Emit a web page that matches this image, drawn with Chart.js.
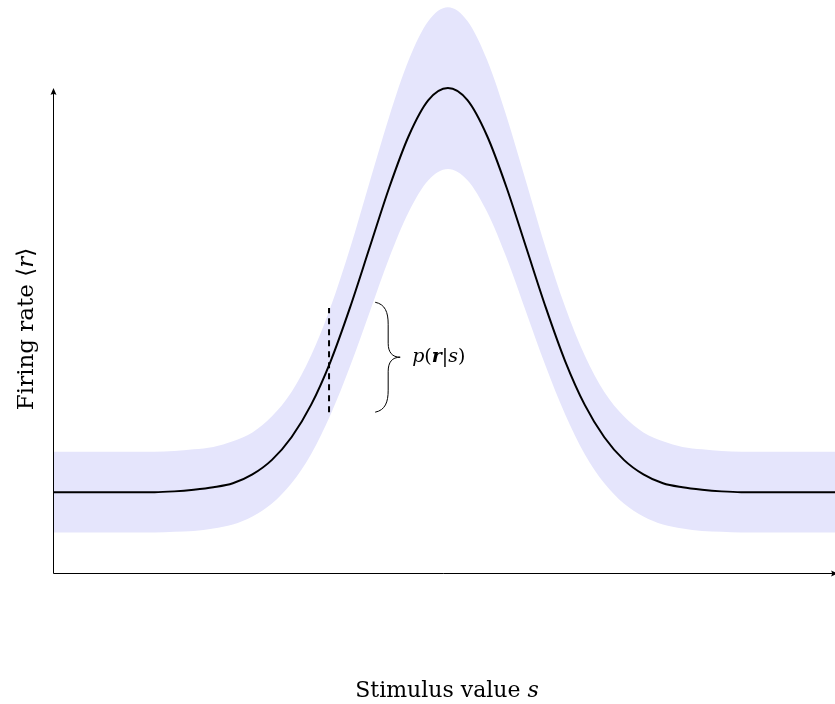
<!DOCTYPE html>
<html>
<head>
<meta charset="utf-8">
<script src="https://cdn.jsdelivr.net/npm/chart.js@4.4.1/dist/chart.umd.min.js"></script>
<style>
    body { margin: 0; background: #ffffff; }
    #wrap { position: relative; width: 835px; height: 704px; }
</style>
</head>
<body>
<div id="wrap"><canvas id="tuningChart"></canvas></div>
<script>
// stimulus values (peak at s = 0)
const stimulus = [-5.1, -4.5, -4, -3.75, -3.5, -3.25, -3, -2.75, -2.5, -2.25, -2, -1.75, -1.5, -1.25, -1, -0.75, -0.5, -0.25, 0,
    0.25, 0.5, 0.75, 1, 1.25, 1.5, 1.75, 2, 2.25, 2.5, 2.75, 3, 3.25, 3.5, 3.75, 4, 4.5, 5];
// mean firing rate
const meanRate = [1.00, 1.00, 1.00, 1.00, 1.01, 1.03, 1.06, 1.11, 1.22, 1.40, 1.68, 2.08, 2.62, 3.29, 4.03, 4.77, 5.41, 5.85, 6.00,
    5.85, 5.41, 4.77, 4.03, 3.29, 2.62, 2.08, 1.68, 1.40, 1.22, 1.11, 1.06, 1.03, 1.01, 1.00, 1.00, 1.00, 1.00];
// spread of responses
const upperRate = [1.50, 1.50, 1.50, 1.50, 1.51, 1.53, 1.56, 1.63, 1.74, 1.94, 2.24, 2.69, 3.29, 4.02, 4.84, 5.65, 6.35, 6.83, 7.00,
    6.83, 6.35, 5.65, 4.84, 4.02, 3.29, 2.69, 2.24, 1.94, 1.74, 1.63, 1.56, 1.53, 1.51, 1.50, 1.50, 1.50, 1.50];
const lowerRate = [0.50, 0.50, 0.50, 0.50, 0.51, 0.52, 0.55, 0.60, 0.70, 0.86, 1.11, 1.47, 1.96, 2.56, 3.23, 3.90, 4.47, 4.86, 5.00,
    4.86, 4.47, 3.90, 3.23, 2.56, 1.96, 1.47, 1.11, 0.86, 0.70, 0.60, 0.55, 0.52, 0.51, 0.50, 0.50, 0.50, 0.50];
// dashed slice and brace
const sliceS = [-1.52, -1.52];
const sliceRate = [1.99, 3.28];
const braceS = -0.93;
const braceRate = [3.35, 1.99];

const axisTop = 6;

function toPoints(xs, ys) {
    return xs.map((x, i) => ({ x: x, y: ys[i] }));
}

const serif = '"DejaVu Serif", "Liberation Serif", serif';

function drawPieces(ctx, pieces, x, y) {
    let cx = x;
    pieces.forEach(p => {
        ctx.font = p.font;
        ctx.fillText(p.text, cx, y);
        cx += ctx.measureText(p.text).width;
    });
}

function piecesWidth(ctx, pieces) {
    let w = 0;
    pieces.forEach(p => {
        ctx.font = p.font;
        w += ctx.measureText(p.text).width;
    });
    return w;
}

const decorations = {
    id: 'decorations',
    afterDatasetsDraw(chart) {
        const ctx = chart.ctx;
        const xs = chart.scales.x;
        const ys = chart.scales.y;
        const x0 = xs.getPixelForValue(xs.min) + 0.5;
        const y0 = ys.getPixelForValue(0) + 0.5;
        const yTop = ys.getPixelForValue(axisTop);
        const xEnd = chart.width + 3;

        ctx.save();
        ctx.strokeStyle = '#000';
        ctx.fillStyle = '#000';
        ctx.lineWidth = 1;

        // axes
        ctx.beginPath();
        ctx.moveTo(x0, y0);
        ctx.lineTo(x0, yTop + 4);
        ctx.moveTo(x0, y0);
        ctx.lineTo(xEnd - 4, y0);
        ctx.stroke();

        // arrow heads
        ctx.beginPath();
        ctx.moveTo(x0, yTop);
        ctx.lineTo(x0 - 3, yTop + 7);
        ctx.quadraticCurveTo(x0, yTop + 5, x0 + 3, yTop + 7);
        ctx.closePath();
        ctx.fill();
        ctx.beginPath();
        ctx.moveTo(xEnd, y0);
        ctx.lineTo(xEnd - 7, y0 - 3);
        ctx.quadraticCurveTo(xEnd - 5, y0, xEnd - 7, y0 + 3);
        ctx.closePath();
        ctx.fill();

        // brace
        const bx = xs.getPixelForValue(braceS);
        const b1 = ys.getPixelForValue(braceRate[0]);
        const b2 = ys.getPixelForValue(braceRate[1]);
        const mid = (b1 + b2) / 2;
        const sh = bx + 13;
        const tip = bx + 25;
        ctx.beginPath();
        ctx.moveTo(bx, b1);
        ctx.bezierCurveTo(bx + 10, b1 + 2, sh, b1 + 10, sh, b1 + 22);
        ctx.lineTo(sh, mid - 14);
        ctx.bezierCurveTo(sh, mid - 5, sh + 4, mid, tip, mid);
        ctx.bezierCurveTo(sh + 4, mid, sh, mid + 5, sh, mid + 14);
        ctx.lineTo(sh, b2 - 22);
        ctx.bezierCurveTo(sh, b2 - 10, bx + 10, b2 - 2, bx, b2);
        ctx.stroke();

        // p(r|s)
        ctx.textBaseline = 'middle';
        const pr = [
            { text: 'p', font: 'italic 19px ' + serif },
            { text: '(', font: '19px ' + serif },
            { text: 'r', font: 'italic bold 19px ' + serif },
            { text: '|', font: '19px ' + serif },
            { text: 's', font: 'italic 19px ' + serif },
            { text: ')', font: '19px ' + serif }
        ];
        drawPieces(ctx, pr, tip + 12, mid);

        // x title
        const xt = [
            { text: 'Stimulus value ', font: '22px ' + serif },
            { text: 's', font: 'italic 22px ' + serif }
        ];
        ctx.textBaseline = 'alphabetic';
        const xw = piecesWidth(ctx, xt);
        drawPieces(ctx, xt, 447 - xw / 2, 697);

        // y title
        const yt = [
            { text: 'Firing rate \u27E8', font: '23px ' + serif },
            { text: 'r', font: 'italic 23px ' + serif },
            { text: '\u27E9', font: '23px ' + serif }
        ];
        const yw = piecesWidth(ctx, yt);
        ctx.translate(33, 329);
        ctx.rotate(-Math.PI / 2);
        drawPieces(ctx, yt, -yw / 2, 0);

        ctx.restore();
    }
};

new Chart(document.getElementById('tuningChart'), {
    type: 'line',
    data: {
        datasets: [{
            label: 'upper',
            data: toPoints(stimulus, upperRate),
            borderWidth: 0,
            borderColor: 'rgba(0,0,0,0)',
            backgroundColor: 'rgb(229, 229, 252)',
            fill: '+1',
            pointRadius: 0,
            order: 3,
            cubicInterpolationMode: 'monotone'
        }, {
            label: 'lower',
            data: toPoints(stimulus, lowerRate),
            borderWidth: 0,
            borderColor: 'rgba(0,0,0,0)',
            fill: false,
            pointRadius: 0,
            order: 2,
            cubicInterpolationMode: 'monotone'
        }, {
            label: 'mean',
            data: toPoints(stimulus, meanRate),
            borderColor: '#000000',
            borderWidth: 2,
            fill: false,
            pointRadius: 0,
            order: 1,
            cubicInterpolationMode: 'monotone'
        }, {
            label: 'slice',
            data: toPoints(sliceS, sliceRate),
            borderColor: '#000000',
            borderWidth: 2,
            borderDash: [6, 5],
            fill: false,
            pointRadius: 0,
            order: 0
        }]
    },
    options: {
        responsive: true,
        maintainAspectRatio: false,
        animation: false,
        layout: {
            padding: { left: 53, right: 0, top: 0, bottom: 131 }
        },
        plugins: {
            legend: { display: false },
            tooltip: { enabled: false }
        },
        scales: {
            x: {
                type: 'linear',
                display: false,
                min: -5.05,
                max: 4.95
            },
            y: {
                type: 'linear',
                display: false,
                min: 0,
                max: 7.09
            }
        }
    },
    plugins: [decorations]
});
</script>
</body>
</html>
